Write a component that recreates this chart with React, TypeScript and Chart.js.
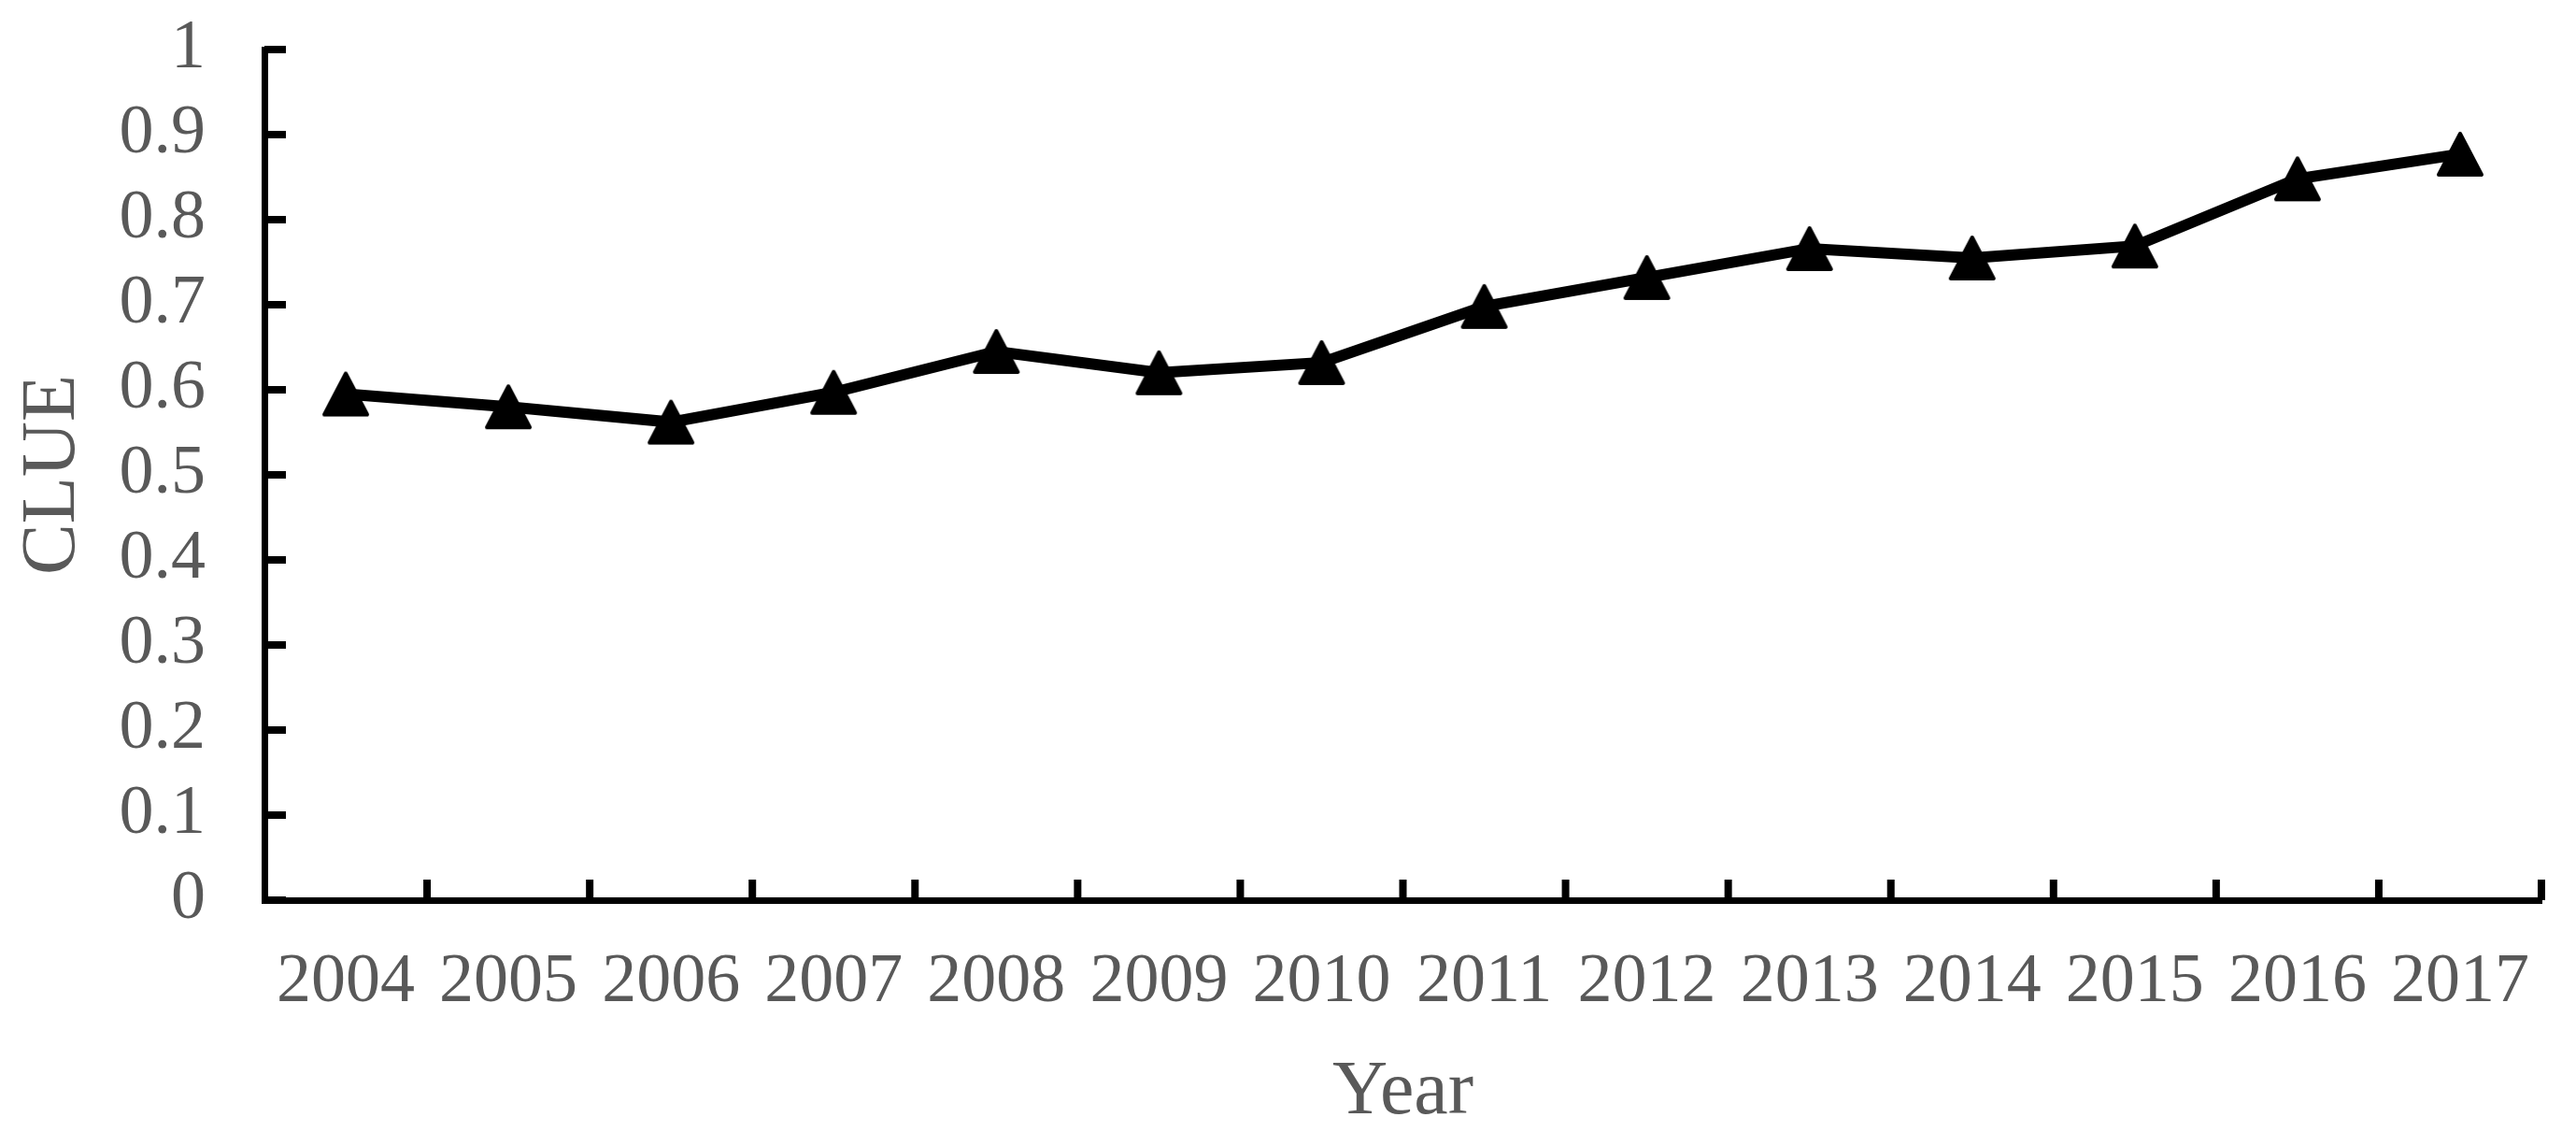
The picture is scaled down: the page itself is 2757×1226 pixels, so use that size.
import React, { useEffect, useRef } from "react";
import { Chart, registerables } from "chart.js";

Chart.register(...registerables);

const years = ["2004", "2005", "2006", "2007", "2008", "2009", "2010", "2011", "2012", "2013", "2014", "2015", "2016", "2017"];
const clueValues = [0.595, 0.58, 0.562, 0.597, 0.645, 0.62, 0.632, 0.698, 0.732, 0.766, 0.755, 0.769, 0.848, 0.877];
const yMin = 0;
const yMax = 1;
const yStep = 0.1;
const xTitle = "Year";
const yTitle = "CLUE";

const W = 2757;
const H = 1226;

export default function App() {
  const ref = useRef<HTMLCanvasElement | null>(null);

  useEffect(() => {
    document.body.style.margin = "0";
    const canvas = ref.current;
    if (!canvas) return;

    const marker = document.createElement("canvas");
    marker.width = 52;
    marker.height = 50;
    const g = marker.getContext("2d")!;
    g.fillStyle = "#000";
    g.strokeStyle = "#000";
    g.lineWidth = 4;
    g.lineJoin = "round";
    g.beginPath();
    g.moveTo(26, 3);
    g.lineTo(49, 47);
    g.lineTo(3, 47);
    g.closePath();
    g.fill();
    g.stroke();

    const innerTicks = {
      id: "innerTicks",
      afterDraw(chart: any) {
        const { ctx, chartArea, scales } = chart;
        const xs = scales.x;
        const ys = scales.y;
        ctx.save();
        ctx.strokeStyle = "#000";
        ctx.lineWidth = 8;
        ys.ticks.forEach((_t: any, i: number) => {
          const y = ys.getPixelForTick(i);
          ctx.beginPath();
          ctx.moveTo(chartArea.left, y);
          ctx.lineTo(chartArea.left + 23, y);
          ctx.stroke();
        });
        const half = (xs.getPixelForValue(1) - xs.getPixelForValue(0)) / 2;
        for (let i = 0; i < years.length; i++) {
          const x = xs.getPixelForValue(i) + half;
          ctx.beginPath();
          ctx.moveTo(x, chartArea.bottom);
          ctx.lineTo(x, chartArea.bottom - 22);
          ctx.stroke();
        }
        ctx.restore();
      },
    };

    const chart = new Chart(canvas, {
      type: "line",
      data: {
        labels: years,
        datasets: [
          {
            data: clueValues,
            borderColor: "#000",
            backgroundColor: "#000",
            borderWidth: 12,
            pointStyle: marker as any,
            pointRadius: 24,
            tension: 0,
          },
        ],
      },
      options: {
        responsive: false,
        animation: false,
        layout: { padding: { top: 0, right: 37, left: 0, bottom: 0 } },
        plugins: { legend: { display: false }, tooltip: { enabled: false } },
        scales: {
          x: {
            offset: true,
            grid: { display: false, drawTicks: false },
            border: { display: true, color: "#000", width: 7 },
            ticks: {
              color: "#595959",
              padding: 44,
              font: { family: "Liberation Serif", size: 74 },
              maxRotation: 0,
              autoSkip: false,
            },
            title: {
              display: true,
              text: xTitle,
              color: "#595959",
              font: { family: "Liberation Serif", size: 82, lineHeight: 1.2 },
              padding: { top: 0, bottom: 7 },
            },
            afterFit(scale: any) {
              scale.height = H - 963;
              scale.paddingLeft = 0;
              scale.paddingRight = 0;
            },
          },
          y: {
            min: yMin,
            max: yMax,
            grid: { display: false, drawTicks: false },
            border: { display: true, color: "#000", width: 7 },
            ticks: {
              stepSize: yStep,
              autoSkip: false,
              color: "#595959",
              padding: 63,
              font: { family: "Liberation Serif", size: 74 },
              callback: (v: any) => String(Number(Number(v).toFixed(1))),
            },
            title: {
              display: true,
              text: yTitle,
              color: "#595959",
              font: { family: "Liberation Serif", size: 82, lineHeight: 1.2 },
              padding: { top: 8, bottom: 0 },
            },
            afterFit(scale: any) {
              scale.width = 283;
              scale.paddingTop = 53;
              scale.paddingBottom = 0;
            },
          },
        },
      },
      plugins: [innerTicks],
    });

    return () => chart.destroy();
  }, []);

  return (
    <div style={{ width: W, height: H, background: "#fff" }}>
      <canvas ref={ref} width={W} height={H} />
    </div>
  );
}
